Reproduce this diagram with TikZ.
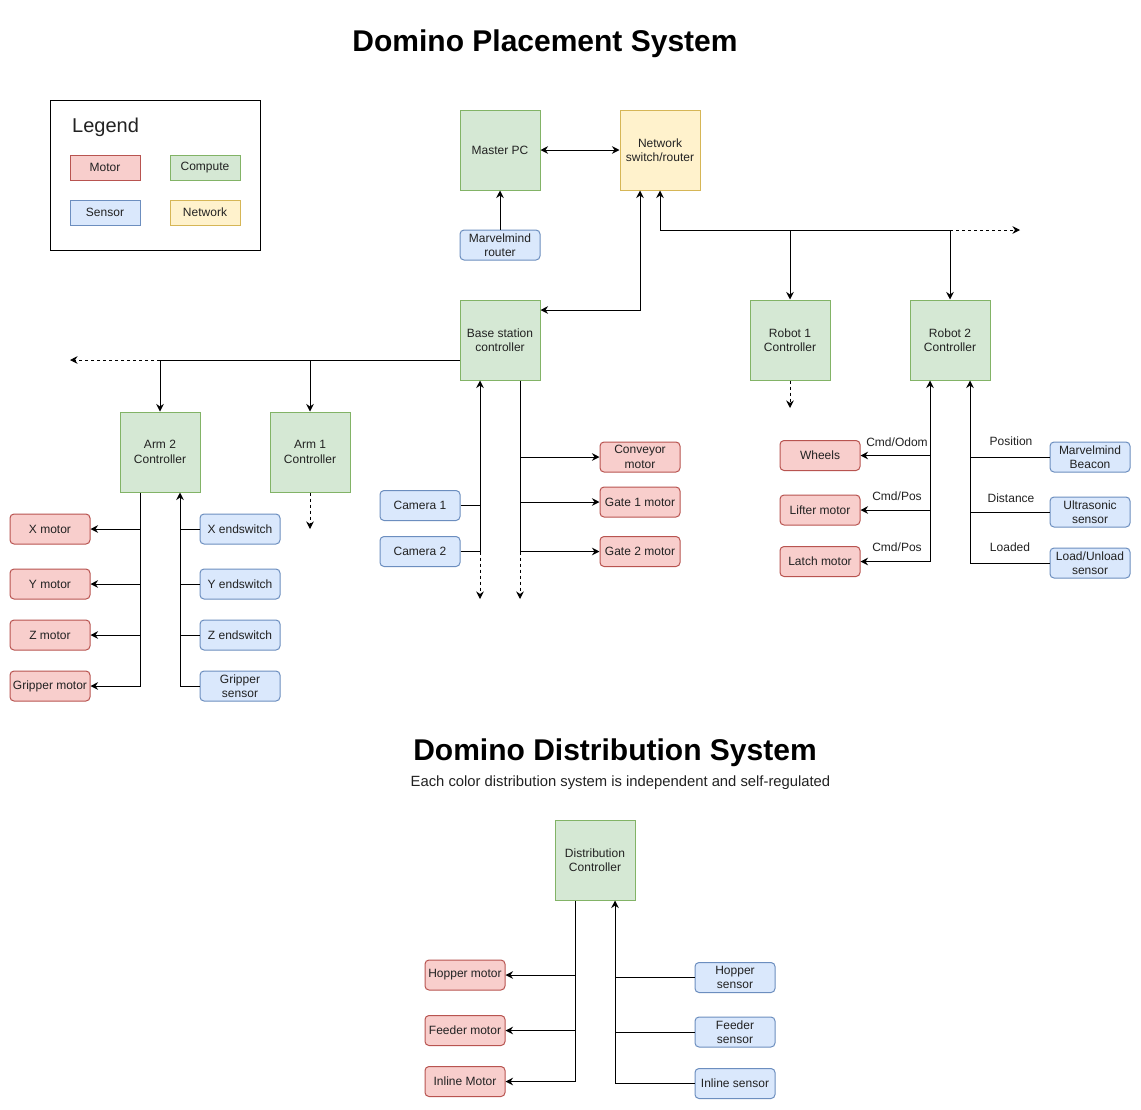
\documentclass[tikz,border=0pt]{standalone}
\usepackage{fontspec}
\setmainfont{Liberation Sans}
\usetikzlibrary{arrows.meta}
\definecolor{motorF}{HTML}{F8CECC}
\definecolor{motorD}{HTML}{B85450}
\definecolor{compF}{HTML}{D5E8D4}
\definecolor{compD}{HTML}{82B366}
\definecolor{sensF}{HTML}{DAE8FC}
\definecolor{sensD}{HTML}{6C8EBF}
\definecolor{netF}{HTML}{FFF2CC}
\definecolor{netD}{HTML}{D6B656}
\definecolor{txt}{HTML}{222222}
\begin{document}
\begin{tikzpicture}[x=1pt,y=-1pt,
  every node/.style={text=txt, font=\fontsize{12}{14.4}\selectfont, inner sep=0pt, align=center},
  bigbox/.style={minimum width=80pt, minimum height=80pt, line width=1pt},
  compbox/.style={bigbox, fill=compF, draw=compD},
  netbox/.style={bigbox, fill=netF, draw=netD},
  smallbox/.style={minimum width=80pt, minimum height=30pt, line width=1pt, rounded corners=4pt},
  motorbox/.style={smallbox, fill=motorF, draw=motorD},
  sensbox/.style={smallbox, fill=sensF, draw=sensD},
  legbox/.style={minimum width=70pt, minimum height=25pt, line width=1pt},
  lbl/.style={},
  wire/.style={line width=1pt, draw=black},
  arr/.style={wire, -{Stealth[length=7.5pt,width=7.5pt,inset=2.5pt]}},
  darr/.style={wire, -{Stealth[length=7.5pt,width=7.5pt,inset=2.5pt]}, dash pattern=on 3pt off 3pt},
  biarr/.style={wire, {Stealth[length=7.5pt,width=7.5pt,inset=2.5pt]}-{Stealth[length=7.5pt,width=7.5pt,inset=2.5pt]}}
]
\useasboundingbox[fill=white] (0,0) rectangle (1141,1109);

% Titles
\node[font=\fontsize{30}{36}\selectfont\bfseries, text=black] (t1) at (545,43.5) {Domino Placement System};
\node[font=\fontsize{30}{36}\selectfont\bfseries, text=black] (t2) at (615,752.5) {Domino Distribution System};
\node[font=\fontsize{14.8}{17}\selectfont] (t3) at (620.5,782.5) {Each color distribution system is independent and self-regulated};

% Legend
\node[draw=black, line width=1pt, minimum width=210pt, minimum height=150pt] (legend) at (155,175) {};
\node[anchor=west, font=\fontsize{20}{24}\selectfont] (legtitle) at (72,127.5) {Legend};
\node[legbox, fill=motorF, draw=motorD] (lmotor) at (105,167.5) {Motor};
\node[legbox, fill=compF, draw=compD] (lcomp) at (205,167.5) {Compute};
\node[legbox, fill=sensF, draw=sensD] (lsens) at (105,212.5) {Sensor};
\node[legbox, fill=netF, draw=netD] (lnet) at (205,212.5) {Network};

% Main nodes
\node[compbox] (master) at (500,150) {Master PC};
\node[netbox] (net) at (660,150) {Network\\switch/router};
\node[sensbox] (mrouter) at (500,245) {Marvelmind\\router};
\node[compbox] (base) at (500,340) {Base station\\controller};
\node[compbox] (r1) at (790,340) {Robot 1\\Controller};
\node[compbox] (r2) at (950,340) {Robot 2\\Controller};
\node[compbox] (arm2) at (160,452) {Arm 2\\Controller};
\node[compbox] (arm1) at (310,452) {Arm 1\\Controller};

% Arm 2 peripherals
\node[motorbox] (xm) at (50,529) {X motor};
\node[motorbox] (ym) at (50,584) {Y motor};
\node[motorbox] (zm) at (50,635) {Z motor};
\node[motorbox] (gm) at (50,686) {Gripper motor};
\node[sensbox] (xe) at (240,529) {X endswitch};
\node[sensbox] (ye) at (240,584) {Y endswitch};
\node[sensbox] (ze) at (240,635) {Z endswitch};
\node[sensbox] (gs) at (240,686) {Gripper\\sensor};

% Base station peripherals
\node[sensbox] (cam1) at (420,505.5) {Camera 1};
\node[sensbox] (cam2) at (420,551.5) {Camera 2};
\node[motorbox] (conv) at (640,457) {Conveyor\\motor};
\node[motorbox] (g1) at (640,502) {Gate 1 motor};
\node[motorbox] (g2) at (640,551.5) {Gate 2 motor};

% Robot 2 peripherals
\node[motorbox] (wheels) at (820,455.5) {Wheels};
\node[motorbox] (lifter) at (820,510) {Lifter motor};
\node[motorbox] (latch) at (820,561.5) {Latch motor};
\node[sensbox] (beacon) at (1090,457) {Marvelmind\\Beacon};
\node[sensbox] (ultra) at (1090,512) {Ultrasonic\\sensor};
\node[sensbox] (load) at (1090,563) {Load/Unload\\sensor};

% Distribution
\node[compbox] (dist) at (595,860) {Distribution\\Controller};
\node[motorbox] (hm) at (465,975) {Hopper motor};
\node[motorbox] (fm) at (465,1030.5) {Feeder motor};
\node[motorbox] (im) at (465,1081.5) {Inline Motor};
\node[sensbox] (hs) at (735,977.5) {Hopper\\sensor};
\node[sensbox] (fs) at (735,1032) {Feeder\\sensor};
\node[sensbox] (iss) at (735,1083.5) {Inline sensor};

% ---- Connectors ----
\draw[biarr] (master.east) -- (net.west);
\draw[arr] (mrouter.north) -- (master.south);
\draw[biarr] ([yshift=30pt]base.east) -| ([xshift=-20pt]net.south);

% network bus to robots
\coordinate (rj) at (950,230);
\coordinate (rend) at (1020,230);
\draw[arr] (rj) -| (net.south);
\draw[arr] (rj) -- (r2.north);
\draw[arr] (r1.north |- rj) -- (r1.north);
\draw[darr] (rj) -- (rend);

% base station to arms
\coordinate (lj) at (160,360);
\coordinate (lend) at (70,360);
\draw[arr] ([yshift=-20pt]base.west) -| (arm2.north);
\draw[arr] (arm1.north |- lj) -- (arm1.north);
\draw[darr] (lj) -- (lend);
\coordinate (a1end) at (310,529);
\draw[darr] (arm1.south) -- (a1end);

% Arm 2 buses
\coordinate (a2m) at ([xshift=-20pt]arm2.south);
\coordinate (a2s) at ([xshift=20pt]arm2.south);
\draw[arr] (a2m) |- (gm.east);
\draw[arr] (a2m |- xm.east) -- (xm.east);
\draw[arr] (a2m |- ym.east) -- (ym.east);
\draw[arr] (a2m |- zm.east) -- (zm.east);
\draw[arr] (gs.west) -| (a2s);
\draw[wire] (xe.west) -- (a2s |- xe.west);
\draw[wire] (ye.west) -- (a2s |- ye.west);
\draw[wire] (ze.west) -- (a2s |- ze.west);

% Base station buses
\coordinate (bs) at ([xshift=-20pt]base.south);
\coordinate (bm) at ([xshift=20pt]base.south);
\coordinate (bsend) at (480,599);
\coordinate (bmend) at (520,599);
\draw[arr] (cam2.east) -| (bs);
\draw[wire] (cam1.east) -- (bs |- cam1.east);
\draw[darr] (bs |- cam2.east) -- (bsend);
\draw[wire] (bm) -- (bm |- g2.west);
\draw[arr] (bm |- conv.west) -- (conv.west);
\draw[arr] (bm |- g1.west) -- (g1.west);
\draw[arr] (bm |- g2.west) -- (g2.west);
\draw[darr] (bm |- g2.west) -- (bmend);

% Robot 1
\coordinate (r1end) at (790,408);
\draw[darr] (r1.south) -- (r1end);

% Robot 2 buses
\coordinate (rm) at ([xshift=-20pt]r2.south);
\coordinate (rs) at ([xshift=20pt]r2.south);
\draw[arr] (rm |- latch.east) -- (rm);
\draw[arr] (rm |- wheels.east) -- (wheels.east);
\draw[arr] (rm |- lifter.east) -- (lifter.east);
\draw[arr] (rm |- latch.east) -- (latch.east);
\draw[arr] (load.west) -| (rs);
\draw[wire] (beacon.west) -- (rs |- beacon.west);
\draw[wire] (ultra.west) -- (rs |- ultra.west);
\node[lbl] (lb1) at (897,442.5) {Cmd/Odom};
\node[lbl] (lb2) at (897,496) {Cmd/Pos};
\node[lbl] (lb3) at (897,547) {Cmd/Pos};
\node[lbl] (lb4) at (1011,441) {Position};
\node[lbl] (lb5) at (1011,498) {Distance};
\node[lbl] (lb6) at (1010,547) {Loaded};

% Distribution buses
\coordinate (dm) at ([xshift=-20pt]dist.south);
\coordinate (ds) at ([xshift=20pt]dist.south);
\draw[wire] (dm) -- (dm |- im.east);
\draw[arr] (dm |- hm.east) -- (hm.east);
\draw[arr] (dm |- fm.east) -- (fm.east);
\draw[arr] (dm |- im.east) -- (im.east);
\draw[arr] (iss.west) -| (ds);
\draw[wire] (hs.west) -- (ds |- hs.west);
\draw[wire] (fs.west) -- (ds |- fs.west);
\end{tikzpicture}
\end{document}
